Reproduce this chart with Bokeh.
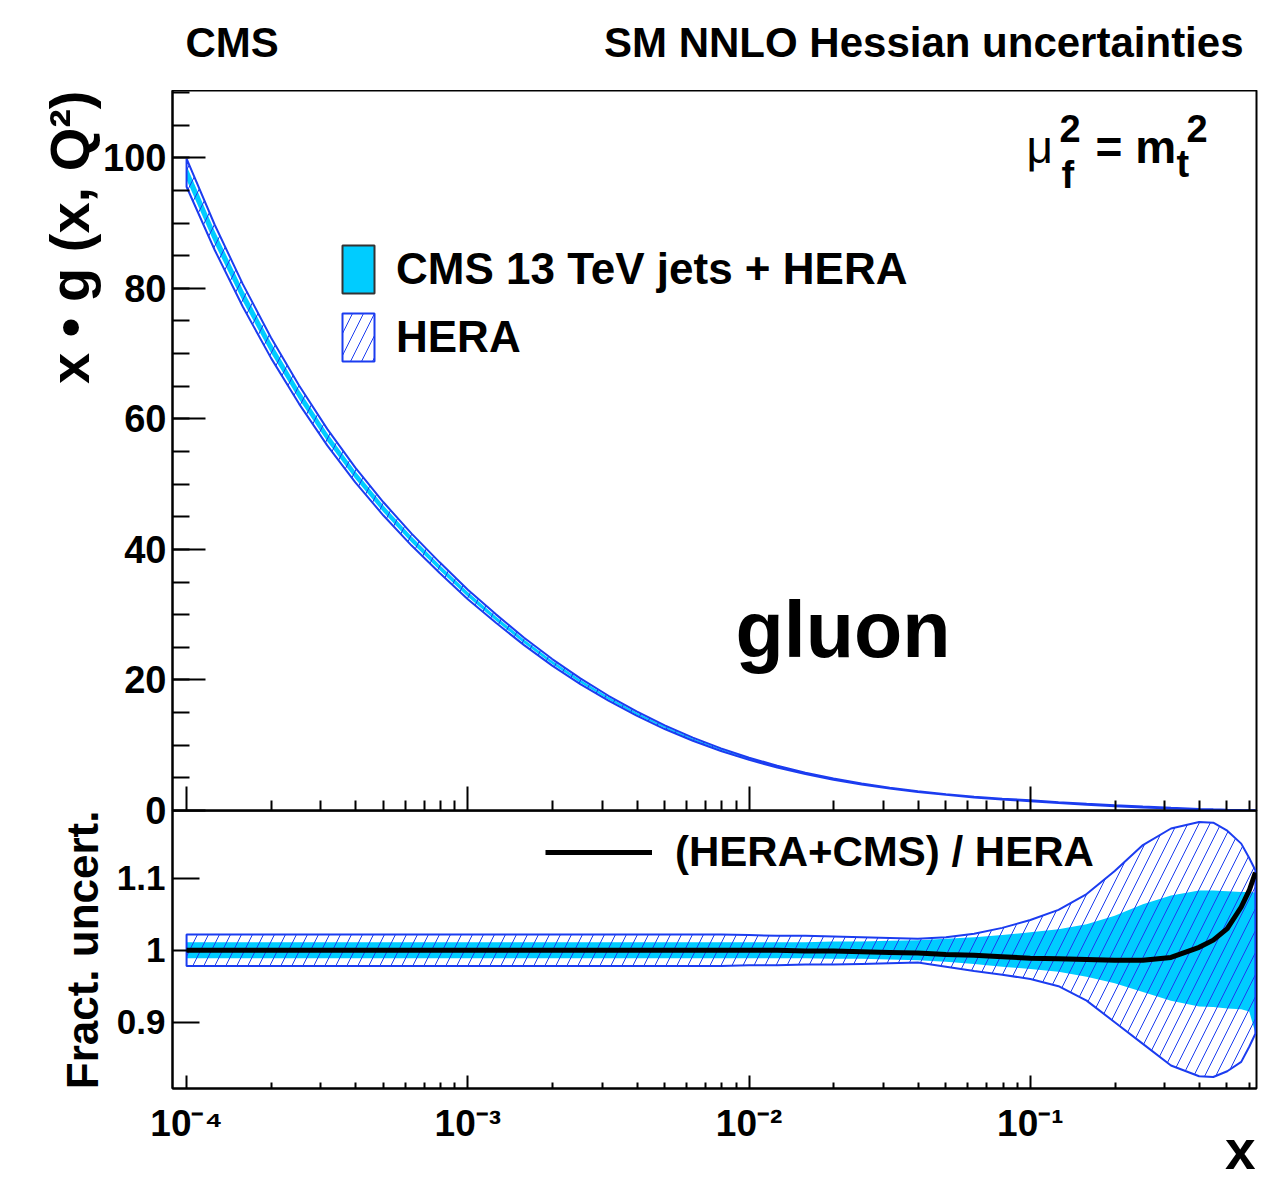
import numpy as np
from bokeh.plotting import figure
from bokeh.layouts import column
from bokeh.models import (Range1d, FixedTicker, Label, Legend, LegendItem, Title,
                          CustomJSTickFormatter)
from bokeh.embed import file_html
from bokeh.resources import INLINE

# ---------------- data ----------------
x_grid = [1.0e-4, 1.259e-4, 1.585e-4, 1.995e-4, 2.512e-4, 3.162e-4, 3.981e-4, 5.012e-4, 6.310e-4, 7.943e-4,
          1.0e-3, 1.259e-3, 1.585e-3, 1.995e-3, 2.512e-3, 3.162e-3, 3.981e-3, 5.012e-3, 6.310e-3, 7.943e-3,
          1.0e-2, 1.259e-2, 1.585e-2, 1.995e-2, 2.512e-2, 3.162e-2, 3.981e-2, 5.012e-2, 6.310e-2, 7.943e-2,
          0.1, 0.1259, 0.1585, 0.1995, 0.2512, 0.3162, 0.3981, 0.447, 0.5012, 0.562, 0.600, 0.631]

# x * g(x, Q^2), HERA central value at mu_f^2 = m_t^2
gluon_hera = [97.7, 87.8, 78.9, 70.9, 63.7, 57.2, 51.4, 46.2, 41.5, 37.2,
              33.1, 29.4, 25.9, 22.7, 19.8, 17.2, 14.85, 12.76, 10.92, 9.32,
              7.92, 6.72, 5.69, 4.81, 4.06, 3.43, 2.90, 2.45, 2.07, 1.76,
              1.49, 1.20, 0.95, 0.72, 0.52, 0.35, 0.21, 0.15, 0.10, 0.065, 0.05, 0.035]

# fractional uncertainty bands (relative to 1)
hera_up = [1.022, 1.022, 1.022, 1.022, 1.022, 1.022, 1.022, 1.022, 1.022, 1.022,
           1.022, 1.022, 1.022, 1.022, 1.022, 1.022, 1.022, 1.022, 1.022, 1.022,
           1.021, 1.020, 1.020, 1.019, 1.018, 1.017, 1.016, 1.018, 1.023, 1.031,
           1.042, 1.056, 1.078, 1.110, 1.146, 1.169, 1.178, 1.177, 1.166, 1.148, 1.128, 1.111]
hera_dn = [0.978, 0.978, 0.978, 0.978, 0.978, 0.978, 0.978, 0.978, 0.978, 0.978,
           0.978, 0.978, 0.978, 0.978, 0.978, 0.978, 0.978, 0.978, 0.978, 0.978,
           0.979, 0.979, 0.980, 0.980, 0.981, 0.982, 0.983, 0.977, 0.971, 0.966,
           0.960, 0.950, 0.930, 0.900, 0.870, 0.840, 0.825, 0.824, 0.832, 0.845, 0.866, 0.884]
cms_up = [1.011, 1.011, 1.011, 1.011, 1.011, 1.011, 1.011, 1.011, 1.011, 1.011,
          1.011, 1.011, 1.011, 1.011, 1.011, 1.011, 1.011, 1.011, 1.011, 1.011,
          1.011, 1.011, 1.011, 1.012, 1.012, 1.013, 1.014, 1.016, 1.018, 1.021,
          1.025, 1.029, 1.036, 1.048, 1.064, 1.076, 1.083, 1.083, 1.082, 1.081, 1.081, 1.080]
cms_dn = [0.989, 0.989, 0.989, 0.989, 0.989, 0.989, 0.989, 0.989, 0.989, 0.989,
          0.989, 0.989, 0.989, 0.989, 0.989, 0.989, 0.989, 0.989, 0.989, 0.989,
          0.989, 0.989, 0.989, 0.988, 0.988, 0.987, 0.986, 0.984, 0.981, 0.977,
          0.974, 0.970, 0.963, 0.954, 0.942, 0.930, 0.922, 0.921, 0.919, 0.918, 0.915, 0.885]
# (HERA+CMS) / HERA central ratio
ratio = [1.000, 1.000, 1.000, 1.000, 1.000, 1.000, 1.000, 1.000, 1.000, 1.000,
         1.000, 1.000, 1.000, 1.000, 1.000, 1.000, 1.000, 1.000, 1.000, 1.000,
         1.000, 1.000, 0.999, 0.999, 0.998, 0.997, 0.996, 0.994, 0.993, 0.991,
         0.989, 0.988, 0.987, 0.986, 0.986, 0.990, 1.004, 1.014, 1.030, 1.060, 1.083, 1.108]

x_major = [1e-4, 1e-3, 1e-2, 1e-1]
x_minor = [k * 10.0 ** d for d in range(-4, 0) for k in range(2, 10) if k * 10.0 ** d < 0.63]
y_top_major = [0, 20, 40, 60, 80, 100]
y_top_minor = [5 * i for i in range(1, 23)]
y_bot_major = [0.9, 1.0, 1.1]

# ---------------- style ----------------
FONT = "Liberation Sans"
CYAN = "#00CCFF"
BLUE = "#1b3cf0"
W = 1258           # canvas width of every strip
FL = 172           # frame left edge (all strips are frame-aligned by the column)
BASE = 0.365       # Label baseline correction (fraction of font size)
OVL = 24           # overlap of the ratio panel with the main panel's bottom border

x = np.array(x_grid)
g = np.array(gluon_hera)
hu, hd = np.array(hera_up), np.array(hera_dn)
cu, cd = np.array(cms_up), np.array(cms_dn)
r = np.array(ratio)

xr = Range1d(10 ** -4.05, 10 ** -0.196)

log_fmt = CustomJSTickFormatter(code="""
const e = Math.round(Math.log10(tick));
const sup = {"-": "\u207b", "0": "\u2070", "1": "\u00b9", "2": "\u00b2", "3": "\u00b3", "4": "\u2074"};
return "10" + String(e).split("").map(c => sup[c]).join("");
""")
plain_fmt = CustomJSTickFormatter(code="return String(Math.round(tick*10)/10);")


def style_axis(ax, maj_in, min_in, size):
    ax.axis_line_width = 2
    ax.major_tick_in = maj_in
    ax.major_tick_out = 0
    ax.minor_tick_in = min_in
    ax.minor_tick_out = 0
    ax.major_tick_line_width = 2
    ax.minor_tick_line_width = 2
    ax.major_label_text_font = FONT
    ax.major_label_text_font_style = "bold"
    ax.major_label_text_font_size = size
    ax.major_label_text_color = "black"


def lab(p, x, y, text, size, align="left", style="bold"):
    px = int(size.replace("px", ""))
    p.add_layout(Label(x=x, y=y + BASE * px, x_units="screen", y_units="screen", text=text,
                       text_font=FONT, text_font_style=style, text_font_size=size,
                       text_align=align, text_baseline="alphabetic", text_color="black"))


def strip(height, **kw):
    s = figure(width=W, height=height, x_range=Range1d(0, 1), y_range=Range1d(0, 1),
               min_border=0, x_axis_location=None, y_axis_location=None, title=None,
               output_backend="svg", toolbar_location=None, **kw)
    s.grid.visible = False
    s.outline_line_color = None
    return s


# ---------------- header strip ----------------
p0 = strip(90)
lab(p0, 185 - FL, 33, "CMS", "42px")
lab(p0, 1243 - FL, 33, "SM NNLO Hessian uncertainties", "42px", align="right")

# ---------------- top panel ----------------
p1 = figure(x_axis_type="log", x_range=xr, y_range=Range1d(0, 110.3), title=None,
            frame_width=1084, frame_height=720,
            min_border_left=FL, min_border_right=2, min_border_top=0, min_border_bottom=OVL,
            output_backend="svg", toolbar_location=None)
p1.grid.visible = False
p1.outline_line_color = "black"
p1.outline_line_width = 2

p1.yaxis.ticker = FixedTicker(ticks=y_top_major, minor_ticks=y_top_minor)
style_axis(p1.yaxis[0], 33, 17, "38px")
p1.yaxis.major_label_standoff = 6

p1.xaxis.ticker = FixedTicker(ticks=x_major, minor_ticks=x_minor)
style_axis(p1.xaxis[0], 24, 10, "0px")
p1.xaxis.major_label_standoff = 0
p1.xaxis.major_label_text_alpha = 0

p1.add_layout(Title(text="x \u2022 g (x, Q\u00b2)", align="right", standoff=0,
                    text_font=FONT, text_font_style="bold", text_font_size="56px",
                    text_color="black"), "left")

p1.varea(x=x, y1=g * cd, y2=g * cu, fill_color=CYAN)
hera1 = p1.patch(x=np.concatenate([x, x[::-1]]),
                 y=np.concatenate([g * hu, (g * hd)[::-1]]),
                 fill_color=None, hatch_pattern="/", hatch_color=BLUE,
                 hatch_weight=1, hatch_scale=22, line_color=BLUE, line_width=2)
cms_key = p1.patch(x=[np.nan], y=[np.nan], fill_color=CYAN, line_color="#333333", line_width=2)

leg1 = Legend(items=[LegendItem(label="CMS 13 TeV jets + HERA", renderers=[cms_key]),
                     LegendItem(label="HERA", renderers=[hera1])],
              location=(166, 443), glyph_width=40, glyph_height=60, label_height=60,
              label_standoff=18, spacing=8, padding=0, margin=0,
              border_line_color=None, background_fill_alpha=0,
              label_text_font=FONT, label_text_font_style="bold",
              label_text_font_size="44px", label_text_color="black")
p1.add_layout(leg1)

lab(p1, 563, 152, "gluon", "79px")
# mu_f^2 = m_t^2
lab(p1, 854, 647, "\u03bc", "46px", style="normal")
lab(p1, 887, 668, "2", "38px")
lab(p1, 889, 622, "f", "38px")
lab(p1, 923, 647, "= m", "46px")
lab(p1, 1004, 633, "t", "38px")
lab(p1, 1014, 668, "2", "38px")

# ---------------- bottom panel ----------------
p2 = figure(x_axis_type="log", x_range=xr, y_range=Range1d(0.808, 1.194), title=None,
            frame_width=1084, frame_height=278,
            min_border_left=FL, min_border_right=2, min_border_top=0, min_border_bottom=60,
            output_backend="svg", toolbar_location=None, margin=(-OVL, 0, 0, 0))
p2.grid.visible = False
p2.outline_line_color = "black"
p2.outline_line_width = 2
p2.background_fill_alpha = 0
p2.border_fill_alpha = 0

p2.yaxis.ticker = FixedTicker(ticks=y_bot_major, minor_ticks=[])
p2.yaxis.formatter = plain_fmt
style_axis(p2.yaxis[0], 27, 0, "35px")
p2.yaxis.major_label_standoff = 7

p2.xaxis.ticker = FixedTicker(ticks=x_major, minor_ticks=x_minor)
p2.xaxis.formatter = log_fmt
style_axis(p2.xaxis[0], 13, 6, "37px")
p2.xaxis.major_label_standoff = 14

p2.add_layout(Title(text="Fract. uncert.", align="right", standoff=14,
                    text_font=FONT, text_font_style="bold", text_font_size="44px",
                    text_color="black"), "left")

p2.varea(x=x, y1=cd, y2=cu, fill_color=CYAN)
p2.patch(x=np.concatenate([x, x[::-1]]), y=np.concatenate([hu, hd[::-1]]),
         fill_color=None, hatch_pattern="/", hatch_color=BLUE,
         hatch_weight=1, hatch_scale=22, line_color=BLUE, line_width=2)
rline = p2.line(x=x, y=r, line_color="black", line_width=5)

leg2 = Legend(items=[LegendItem(label="(HERA+CMS) / HERA", renderers=[rline])],
              location=(373, 212), glyph_width=107, glyph_height=46, label_height=46,
              label_standoff=23, padding=0, margin=0,
              border_line_color=None, background_fill_alpha=0,
              label_text_font=FONT, label_text_font_style="bold",
              label_text_font_size="42px", label_text_color="black")
p2.add_layout(leg2)

# ---------------- bottom strip (axis title), overlapping the ratio panel's border ----------------
p3 = strip(80, margin=(-46, 0, 0, 0))
p3.background_fill_alpha = 0
p3.border_fill_alpha = 0
lab(p3, 1255 - FL, 12, "x", "55px", align="right")

layout = column(p0, p1, p2, p3, spacing=0)
open("out.html", "w").write(file_html(layout, INLINE))
